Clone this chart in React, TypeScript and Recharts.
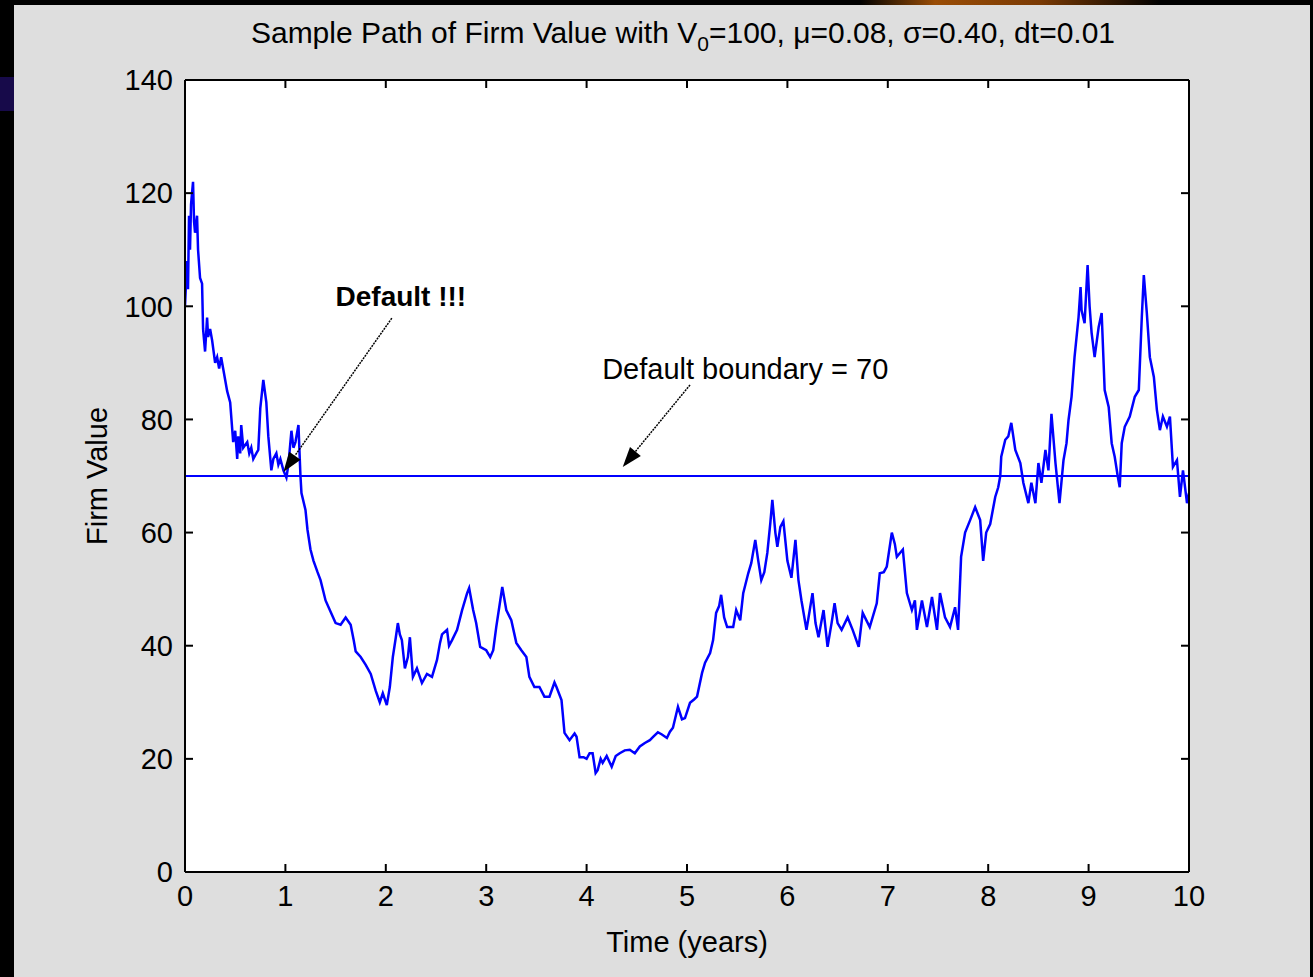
import React from "react";
import {
  Line,
  LineChart,
  ReferenceDot,
  ReferenceLine,
  XAxis,
  YAxis,
} from "recharts";

const times = [
  0, 0.02, 0.03, 0.04, 0.05, 0.06, 0.08, 0.09, 0.1, 0.12, 0.13, 0.15, 0.17, 0.18, 0.2, 0.22,
  0.23, 0.25, 0.27, 0.3, 0.32, 0.34, 0.36, 0.38, 0.42, 0.45, 0.48, 0.5, 0.52, 0.53, 0.55, 0.56,
  0.58, 0.62, 0.64, 0.66, 0.68, 0.71, 0.73, 0.75, 0.78, 0.81, 0.83, 0.86, 0.88, 0.91, 0.93, 0.95,
  0.98, 1.01, 1.03, 1.06, 1.08, 1.1, 1.13, 1.15, 1.16, 1.2, 1.22, 1.25, 1.28, 1.32, 1.35, 1.4,
  1.45, 1.5, 1.55, 1.6, 1.65, 1.68, 1.7, 1.75, 1.8, 1.85, 1.9, 1.94, 1.97, 2.01, 2.04, 2.07,
  2.1, 2.12, 2.14, 2.16, 2.19, 2.22, 2.24, 2.27, 2.31, 2.36, 2.41, 2.46, 2.51, 2.54, 2.56, 2.61,
  2.63, 2.66, 2.71, 2.76, 2.81, 2.83, 2.87, 2.9, 2.94, 3.0, 3.04, 3.07, 3.1, 3.14, 3.16, 3.2,
  3.25, 3.3, 3.35, 3.4, 3.43, 3.48, 3.53, 3.58, 3.63, 3.68, 3.7, 3.75, 3.78, 3.83, 3.88, 3.9,
  3.93, 3.97, 4.0, 4.03, 4.06, 4.09, 4.11, 4.14, 4.16, 4.2, 4.25, 4.29, 4.33, 4.38, 4.43, 4.48,
  4.53, 4.58, 4.63, 4.67, 4.71, 4.75, 4.8, 4.83, 4.86, 4.91, 4.95, 4.98, 5.03, 5.07, 5.1, 5.15,
  5.18, 5.23, 5.26, 5.29, 5.32, 5.34, 5.37, 5.4, 5.46, 5.49, 5.53, 5.56, 5.61, 5.64, 5.68, 5.71,
  5.74, 5.77, 5.8, 5.83, 5.85, 5.88, 5.9, 5.93, 5.96, 6.0, 6.04, 6.08, 6.11, 6.14, 6.19, 6.22,
  6.25, 6.28, 6.31, 6.36, 6.4, 6.44, 6.47, 6.5, 6.54, 6.6, 6.65, 6.71, 6.75, 6.82, 6.89, 6.92,
  6.96, 6.99, 7.04, 7.07, 7.09, 7.15, 7.19, 7.24, 7.27, 7.29, 7.34, 7.39, 7.44, 7.49, 7.52, 7.57,
  7.62, 7.67, 7.7, 7.73, 7.77, 7.82, 7.87, 7.92, 7.95, 7.98, 8.02, 8.07, 8.1, 8.12, 8.13, 8.17,
  8.2, 8.23, 8.27, 8.32, 8.35, 8.4, 8.43, 8.47, 8.5, 8.53, 8.57, 8.6, 8.63, 8.67, 8.71, 8.75,
  8.78, 8.8, 8.83, 8.86, 8.9, 8.92, 8.93, 8.96, 8.99, 9.01, 9.03, 9.06, 9.1, 9.13, 9.16, 9.2,
  9.23, 9.26, 9.29, 9.31, 9.33, 9.36, 9.41, 9.46, 9.5, 9.53, 9.55, 9.58, 9.61, 9.65, 9.68, 9.71,
  9.74, 9.78, 9.81, 9.84, 9.88, 9.91, 9.94, 9.98, 10,
];

const firmValues = [
  100, 108, 103, 116, 110, 118, 122, 115, 113, 116, 110, 105, 104, 96, 92, 98,
  94.6, 96, 94, 90, 91, 89, 91, 89, 85, 83, 76, 78, 73, 77, 74, 79,
  75, 76, 74, 75, 73, 74, 74.6, 82, 87, 83, 77, 71, 73, 74, 72, 73,
  71, 69.7, 72, 78, 75, 76, 79, 70, 67, 64, 60.5, 57, 55, 53, 51.6, 48,
  46, 44, 43.7, 45, 43.7, 41, 39, 38, 36.6, 35, 32, 30, 31.6, 29.5, 32.7, 38,
  41.5, 44, 42, 41, 36, 38, 41.5, 34.5, 36, 33.4, 35, 34.5, 37.5, 40.5, 42, 42.8,
  40, 41, 42.8, 46.3, 49.3, 50.2, 46.3, 44, 39.8, 39.2, 38, 39.2, 43.3, 48, 50.4, 46.3,
  44.5, 40.5, 39.2, 38, 34.5, 32.7, 32.7, 31, 31, 33.5, 32.7, 30.4, 24.6, 23.3, 24.5, 23.9,
  20.3, 20.3, 20, 21, 21, 17.5, 18, 20, 19.3, 20.5, 18.6, 20.5, 21, 21.5, 21.6, 21,
  22.2, 22.8, 23.3, 24, 24.7, 24.3, 23.7, 24.8, 25.5, 29.2, 27, 27.2, 29.9, 30.5, 31, 35.2,
  37, 38.7, 41, 45.8, 47, 49, 45, 43.3, 43.3, 46.3, 44.5, 49.3, 52.8, 54.6, 58.7, 55,
  51.6, 53, 56.4, 61.7, 65.8, 60, 57.5, 61, 62, 55, 52, 58.7, 51.6, 48, 42.8, 46,
  49.3, 44, 41.5, 46.3, 39.8, 44, 47.5, 44, 42.8, 45, 42.8, 39.8, 45.8, 43.3, 47.5, 52.8,
  53, 54, 60, 58, 55.7, 57, 49.3, 46.3, 48, 42.8, 48, 43.3, 48.6, 42.8, 49.3, 45,
  43.3, 46.8, 42.8, 55.7, 60, 62.2, 64.5, 62.2, 55, 60, 61.5, 66.3, 68, 70, 73.4, 76.4,
  77, 79.4, 74.6, 72.3, 68.8, 65.2, 68.8, 65.2, 72.3, 68.8, 74.6, 71, 81, 72.3, 65.2, 72.8,
  75.8, 79.9, 84, 91, 98.1, 103.4, 99.3, 97, 107.3, 100, 95.3, 91, 96.3, 98.8, 85.2, 82.2,
  75.8, 73.4, 70, 68, 75.8, 78.7, 80.5, 84, 85.2, 98.1, 105.5, 98.8, 91, 87.5, 81.7, 78.1,
  80.5, 78.7, 80.5, 71.6, 72.8, 66.3, 71, 65.2, 67,
];

const xTicks = [0, 1, 2, 3, 4, 5, 6, 7, 8, 9, 10];
const yTicks = [0, 20, 40, 60, 80, 100, 120, 140];
const boundary = 70;

const defaultArrow = { from: { x: 2.06, y: 97.9 }, to: { x: 0.98, y: 70.7 } };
const defaultLabel = { x: 2.15, y: 101.8, text: "Default !!!" };
const boundaryArrow = { from: { x: 5.03, y: 86.1 }, to: { x: 4.36, y: 71.6 } };
const boundaryLabel = { x: 5.58, y: 89.0, text: "Default boundary = 70" };

const data = times.map((t, i) => ({ t, v: firmValues[i] }));

const FONT = '"Liberation Sans", Arial, Helvetica, sans-serif';
const tickStyle = { fill: "#000", fontSize: 29, fontFamily: FONT };
const noTick = () => <g />;
const frame = { stroke: "#000", strokeWidth: 2 };

function Arrow(props: any) {
  const { x1, y1, x2, y2 } = props;
  const ang = Math.atan2(y2 - y1, x2 - x1);
  const len = 20;
  const half = 7;
  const bx = x2 - len * Math.cos(ang);
  const by = y2 - len * Math.sin(ang);
  const px = -Math.sin(ang) * half;
  const py = Math.cos(ang) * half;
  return (
    <g>
      <line x1={x1} y1={y1} x2={bx} y2={by} stroke="#000" strokeWidth={1.5} strokeDasharray="2 1" />
      <polygon
        points={`${x2},${y2} ${bx + px},${by + py} ${bx - px},${by - py}`}
        fill="#000"
      />
    </g>
  );
}

function textShape(text: string, bold: boolean) {
  return (p: any) => (
    <text
      x={p.cx}
      y={p.cy}
      textAnchor="middle"
      dominantBaseline="central"
      fontFamily={FONT}
      fontSize={bold ? 28 : 29}
      fontWeight={bold ? "bold" : "normal"}
      fill="#000"
    >
      {text}
    </text>
  );
}

export default function App() {
  return (
    <div
      style={{
        position: "absolute",
        left: 0,
        top: 0,
        width: 1313,
        height: 977,
        background: "#000",
        overflow: "hidden",
      }}
    >
      <div
        style={{
          position: "absolute",
          left: 860,
          top: 0,
          width: 300,
          height: 6,
          background: "linear-gradient(90deg, rgba(120,60,0,0) 0%, #9a4d06 25%, #7a3a04 60%, rgba(90,40,0,0) 100%)",
        }}
      />
      <div style={{ position: "absolute", left: 0, top: 77, width: 14, height: 34, background: "#170a4a" }} />
      <div
        style={{
          position: "absolute",
          left: 14,
          top: 5,
          width: 1296,
          height: 972,
          background: "#dedede",
        }}
      />
      <div
        style={{
          position: "absolute",
          left: 683,
          top: 18,
          transform: "translateX(-50%)",
          whiteSpace: "nowrap",
          fontFamily: FONT,
          fontSize: 30,
          lineHeight: 1,
          color: "#000",
        }}
      >
        Sample Path of Firm Value with V
        <span style={{ fontSize: 21, verticalAlign: -8 }}>0</span>
        =100, μ=0.08, σ=0.40, dt=0.01
      </div>
      <div style={{ position: "absolute", left: 0, top: 0 }}>
        <LineChart
          width={1313}
          height={977}
          data={data}
          margin={{ top: 70, right: 114, left: 85, bottom: 25 }}
        >
          <rect x={185} y={80} width={1004} height={792} fill="#fff" />
          <XAxis
            dataKey="t"
            type="number"
            domain={[0, 10]}
            allowDataOverflow
            ticks={xTicks}
            interval={0}
            height={80}
            tickSize={-8}
            tickMargin={21}
            tick={tickStyle}
            axisLine={frame}
            tickLine={frame}
            label={{
              value: "Time (years)",
              position: "insideBottom",
              offset: 0,
              style: { fontFamily: FONT, fontSize: 29, fill: "#000" },
            }}
          />
          <XAxis
            xAxisId="top"
            dataKey="t"
            orientation="top"
            type="number"
            domain={[0, 10]}
            allowDataOverflow
            ticks={xTicks}
            interval={0}
            height={10}
            tickSize={-8}
            tick={noTick}
            axisLine={frame}
            tickLine={frame}
          />
          <YAxis
            type="number"
            domain={[0, 140]}
            allowDataOverflow
            ticks={yTicks}
            interval={0}
            width={100}
            tickSize={-8}
            tickMargin={20}
            tick={tickStyle}
            axisLine={frame}
            tickLine={frame}
            label={{
              value: "Firm Value",
              angle: -90,
              position: "insideLeft",
              offset: 12,
              style: { fontFamily: FONT, fontSize: 29, fill: "#000", textAnchor: "middle" },
            }}
          />
          <YAxis
            yAxisId="right"
            dataKey="v"
            orientation="right"
            type="number"
            domain={[0, 140]}
            allowDataOverflow
            ticks={yTicks}
            interval={0}
            width={10}
            tickSize={-8}
            tick={noTick}
            axisLine={frame}
            tickLine={frame}
          />
          <ReferenceLine y={boundary} stroke="#0000ff" strokeWidth={2} />
          <Line
            type="linear"
            dataKey="v"
            stroke="#0000ff"
            strokeWidth={2.5}
            dot={false}
            isAnimationActive={false}
          />
          <ReferenceLine
            segment={[defaultArrow.from, defaultArrow.to]}
            shape={Arrow}
          />
          <ReferenceLine
            segment={[boundaryArrow.from, boundaryArrow.to]}
            shape={Arrow}
          />
          <ReferenceDot
            x={defaultLabel.x}
            y={defaultLabel.y}
            r={0}
            shape={textShape(defaultLabel.text, true)}
          />
          <ReferenceDot
            x={boundaryLabel.x}
            y={boundaryLabel.y}
            r={0}
            shape={textShape(boundaryLabel.text, false)}
          />
        </LineChart>
      </div>
    </div>
  );
}
